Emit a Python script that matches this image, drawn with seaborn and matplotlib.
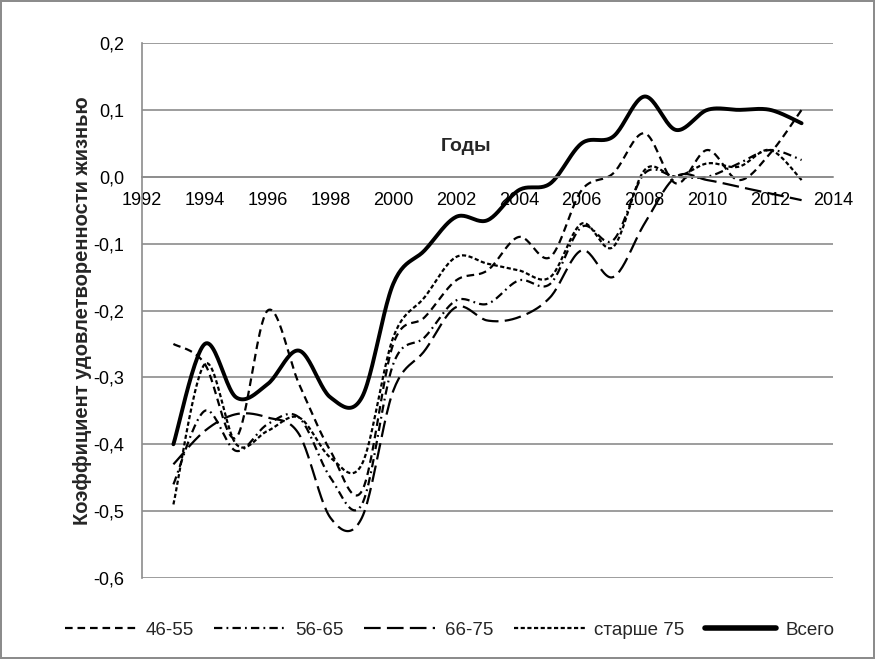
import numpy as np
import pandas as pd
import matplotlib
matplotlib.use('Agg')
import matplotlib.pyplot as plt
from matplotlib.lines import Line2D
import seaborn as sns

# данные
years = list(range(1993, 2014))
vsego = [-0.40, -0.25, -0.33, -0.31, -0.26, -0.33, -0.33, -0.16, -0.11, -0.06, -0.065,
         -0.02, -0.01, 0.05, 0.06, 0.12, 0.07, 0.10, 0.10, 0.10, 0.08]
g46_55 = [-0.25, -0.28, -0.39, -0.20, -0.31, -0.41, -0.47, -0.25, -0.21, -0.155, -0.14,
          -0.09, -0.12, -0.02, 0.005, 0.065, -0.01, 0.04, -0.005, 0.035, 0.10]
g56_65 = [-0.46, -0.35, -0.41, -0.37, -0.36, -0.45, -0.49, -0.28, -0.24, -0.185, -0.19,
          -0.155, -0.16, -0.075, -0.095, 0.005, 0.0, 0.0, 0.02, 0.04, 0.025]
g66_75 = [-0.43, -0.38, -0.355, -0.36, -0.385, -0.51, -0.51, -0.32, -0.26, -0.195, -0.215,
          -0.21, -0.18, -0.11, -0.15, -0.07, 0.0, -0.005, -0.015, -0.025, -0.035]
g75 = [-0.49, -0.28, -0.40, -0.38, -0.36, -0.42, -0.43, -0.24, -0.18, -0.12, -0.13,
       -0.14, -0.15, -0.07, -0.105, 0.01, 0.0, 0.02, 0.015, 0.04, -0.005]

groups = ['46-55', '56-65', '66-75', 'старше 75', 'Всего']
series = [g46_55, g56_65, g66_75, g75, vsego]
yticks = [-0.6, -0.5, -0.4, -0.3, -0.2, -0.1, 0.0, 0.1, 0.2]
ytick_labels = ['-0,6', '-0,5', '-0,4', '-0,3', '-0,2', '-0,1', '0,0', '0,1', '0,2']
xticks = list(range(1992, 2015, 2))

dash_map = {'46-55': (5.5, 3.5), '56-65': (6, 3, 1.3, 3), '66-75': (12, 4.5),
            'старше 75': (3, 1.8), 'Всего': ''}
width_map = {'46-55': 1.6, '56-65': 1.6, '66-75': 1.6, 'старше 75': 1.6, 'Всего': 2.8}


def smooth(xs, ys, n=24):
    # сглаживание как в Excel (кривые Безье через точки)
    x = np.asarray(xs, float)
    y = np.asarray(ys, float)
    xp = np.r_[x[0], x, x[-1]]
    yp = np.r_[y[0], y, y[-1]]
    t = np.linspace(0, 1, n, endpoint=False)[:, None]
    out = []
    for i in range(len(x) - 1):
        p0 = np.array([xp[i], yp[i]])
        p1 = np.array([xp[i + 1], yp[i + 1]])
        p2 = np.array([xp[i + 2], yp[i + 2]])
        p3 = np.array([xp[i + 3], yp[i + 3]])
        c1 = p1 + (p2 - p0) / 6
        c2 = p2 - (p3 - p1) / 6
        pts = ((1 - t) ** 3) * p1 + 3 * ((1 - t) ** 2) * t * c1 + 3 * (1 - t) * t ** 2 * c2 + t ** 3 * p2
        out.append(pts)
    out.append(np.array([[x[-1], y[-1]]]))
    return np.vstack(out)


frames = []
for name, vals in zip(groups, series):
    pts = smooth(years, vals)
    frames.append(pd.DataFrame({'year': pts[:, 0], 'value': pts[:, 1], 'group': name}))
df = pd.concat(frames, ignore_index=True)

sns.set_style('white')
plt.rcParams['font.family'] = ['Liberation Sans', 'DejaVu Sans']
plt.rcParams['lines.scale_dashes'] = False

fig = plt.figure(figsize=(8.75, 6.59), dpi=100, edgecolor='#8c8c8c', linewidth=1.5)
ax = fig.add_axes([142 / 875, 81 / 659, 691 / 875, 535 / 659])

sns.lineplot(data=df, x='year', y='value', style='group', size='group',
             style_order=groups, size_order=groups, dashes=dash_map, sizes=width_map,
             color='black', estimator=None, sort=False, legend=False, ax=ax)

ax.set_xlim(1992, 2014)
ax.set_ylim(-0.6, 0.2)
ax.set_yticks(yticks)
ax.set_yticklabels(ytick_labels)
ax.set_xticks(xticks)
ax.grid(axis='y', color='#8c8c8c', linewidth=1.2)
ax.set_axisbelow(True)

for s in ['top', 'right']:
    ax.spines[s].set_visible(False)
ax.spines['bottom'].set_position(('data', 0))
ax.spines['bottom'].set_color('#8c8c8c')
ax.spines['bottom'].set_linewidth(1.2)
ax.spines['left'].set_color('#8c8c8c')
ax.spines['left'].set_linewidth(1.2)
ax.tick_params(axis='both', direction='out', length=5, width=1.2, color='#8c8c8c',
               labelsize=13, labelcolor='black')
ax.tick_params(axis='x', pad=6)
ax.tick_params(axis='y', pad=8)

ax.set_xlabel('')
ax.set_ylabel('Коэффициент удовлетворенности жизнью', fontsize=14.5, fontweight='bold')
ax.yaxis.set_label_coords(-0.072, 0.5)
ax.text(0.469, 0.806, 'Годы', transform=ax.transAxes, ha='center', va='center',
        fontsize=14, fontweight='bold')

handles = []
for name in groups:
    if dash_map[name] == '':
        h = Line2D([], [], color='black', lw=width_map[name] + 1.2, solid_capstyle='round')
    else:
        h = Line2D([], [], color='black', lw=width_map[name], dashes=dash_map[name])
    handles.append(h)
fig.legend(handles, groups, loc='center', bbox_to_anchor=(0.514, 0.044), ncol=5,
           frameon=False, fontsize=13.5, handlelength=3.8, handletextpad=0.5,
           columnspacing=1.1)

fig.savefig('out.png', dpi=100, edgecolor=fig.get_edgecolor())
